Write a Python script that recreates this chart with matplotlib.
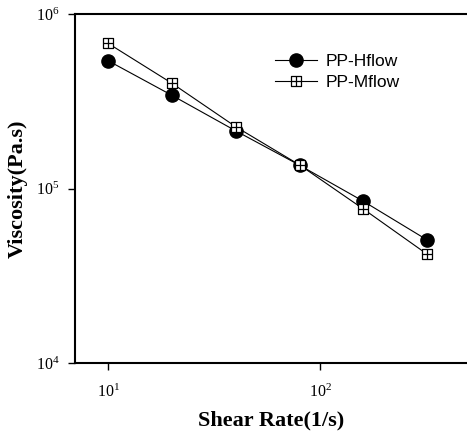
import numpy as np
import matplotlib.pyplot as plt
from matplotlib.path import Path

# Data
shear_rate = [10, 20, 40, 80, 160, 320]
visc_hflow = [540000, 342000, 214000, 136000, 84500, 50700]
visc_mflow = [679000, 401000, 226000, 136500, 76300, 42000]

plt.rcParams['font.family'] = 'Liberation Serif'

# Square with a cross inside (open-square-plus marker)
verts = [(-1, -1), (1, -1), (1, 1), (-1, 1), (-1, -1),
         (-1, 0), (1, 0), (0, -1), (0, 1)]
codes = [Path.MOVETO, Path.LINETO, Path.LINETO, Path.LINETO, Path.CLOSEPOLY,
         Path.MOVETO, Path.LINETO, Path.MOVETO, Path.LINETO]
sq_plus = Path(verts, codes)

fig = plt.figure(figsize=(4.67, 4.33), dpi=100)
ax = fig.add_axes([75 / 467, 70 / 433, 392 / 467, 349 / 433])

ax.plot(shear_rate, visc_hflow, color='black', lw=0.8, marker='o',
        ms=9.5, mfc='black', mec='black', label='PP-Hflow')
ax.plot(shear_rate, visc_mflow, color='black', lw=0.8, marker=sq_plus,
        ms=7.5, mfc='white', mec='black', mew=0.9, label='PP-Mflow')

ax.set_xscale('log')
ax.set_yscale('log')
ax.set_xlim(10 ** 0.844, 10 ** 2.693)
ax.set_ylim(1e4, 1e6)
ax.minorticks_off()

ax.spines['right'].set_visible(False)
for s in ['left', 'top', 'bottom']:
    ax.spines[s].set_linewidth(1.5)
ax.tick_params(direction='out', length=5, width=1.0, labelsize=11.5)
ax.tick_params(axis='x', pad=10)
ax.tick_params(axis='y', pad=6)

ax.set_xlabel('Shear Rate(1/s)', fontsize=16, fontweight='bold', labelpad=7)
ax.set_ylabel('Viscosity(Pa.s)', fontsize=16, fontweight='bold', labelpad=6)

leg = ax.legend(loc='upper left', bbox_to_anchor=(0.47, 0.93), frameon=False,
                prop={'family': 'Liberation Sans', 'size': 12.5},
                handlelength=2.4, handletextpad=0.55, labelspacing=0.35)

fig.savefig('out.png', dpi=100)
